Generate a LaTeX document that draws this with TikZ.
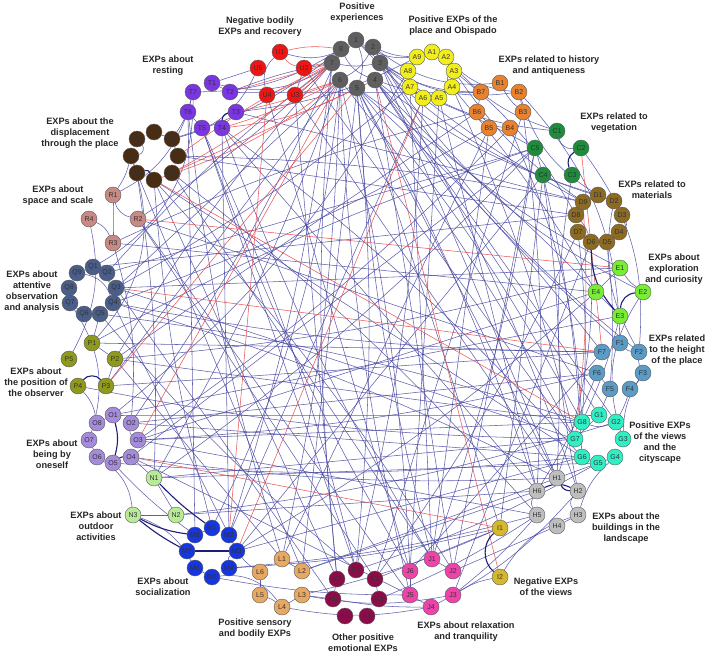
\documentclass[tikz,border=0pt]{standalone}
\usepackage{fontspec}
\setmainfont{Liberation Sans}
\usetikzlibrary{backgrounds}
\definecolor{cH0}{HTML}{5F5F5F}
\definecolor{cA}{HTML}{F2EE1E}
\definecolor{cB}{HTML}{E8822E}
\definecolor{cC}{HTML}{1E8C3C}
\definecolor{cD}{HTML}{8C6A22}
\definecolor{cE}{HTML}{77EE33}
\definecolor{cF}{HTML}{5B9CC6}
\definecolor{cG}{HTML}{2EF0C4}
\definecolor{cH}{HTML}{BEBEBE}
\definecolor{cI}{HTML}{D6B82E}
\definecolor{cJ}{HTML}{EE44AA}
\definecolor{cK}{HTML}{8E0B4A}
\definecolor{cL}{HTML}{E6A862}
\definecolor{cM}{HTML}{1536E0}
\definecolor{cN}{HTML}{B8EB98}
\definecolor{cO}{HTML}{A58BDC}
\definecolor{cP}{HTML}{8F9A1C}
\definecolor{cQ}{HTML}{4A5E8A}
\definecolor{cR}{HTML}{C98A86}
\definecolor{cS}{HTML}{4A2C12}
\definecolor{cT}{HTML}{7A36E0}
\definecolor{cU}{HTML}{EE1515}
\definecolor{eblue}{HTML}{4444A0}
\definecolor{ered}{HTML}{E84848}
\definecolor{enavy}{HTML}{1E1E78}
\begin{document}
\begin{tikzpicture}[x=1pt,y=-1pt,
  gn/.style={circle,draw=black!65,line width=0.4pt,minimum size=16pt,inner sep=0pt,
    font=\fontsize{7}{7}\selectfont,text=black!80},
  lab/.style={font=\bfseries\fontsize{9.2}{11}\selectfont,align=center,text=black!85,inner sep=0pt},
  be/.style={draw=eblue,line width=0.55pt,opacity=0.85},
  re/.style={draw=ered,line width=0.55pt,opacity=0.9},
  bt/.style={draw=enavy,line width=1.1pt}]
\useasboundingbox (0,0) rectangle (708,656);
% nodes
\foreach \n/\x/\y in {1/356/40,2/373/47,3/380/63,4/375/80,5/357/88,6/340/80,7/332/63,8/341/49}
  \node[gn,fill=cH0] (\n) at (\x,\y) {\n};
\foreach \n/\x/\y in {A1/432/52,A2/446/57,A3/454/71,A4/452/87,A5/439/98,A6/423/98,A7/410/87,A8/408/71,A9/417/57}
  \node[gn,fill=cA] (\n) at (\x,\y) {\n};
\foreach \n/\x/\y in {B1/500/83,B2/519/92,B3/523/112,B4/510/128,B5/489/128,B6/477/112,B7/481/92}
  \node[gn,fill=cB] (\n) at (\x,\y) {\n};
\foreach \n/\x/\y in {C1/557/131,C2/581/148,C3/572/175,C4/543/175,C5/535/148}
  \node[gn,fill=cC] (\n) at (\x,\y) {\n};
\foreach \n/\x/\y in {D1/598/195,D2/614/201,D3/622/215,D4/619/232,D5/607/242,D6/591/242,D7/578/232,D8/576/215,D9/583/202}
  \node[gn,fill=cD] (\n) at (\x,\y) {\n};
\foreach \n/\x/\y in {E1/620/268,E2/643/292,E3/620/316,E4/596/292}
  \node[gn,fill=cE] (\n) at (\x,\y) {\n};
\foreach \n/\x/\y in {F1/620/343,F2/639/352,F3/643/373,F4/630/389,F5/610/389,F6/597/373,F7/602/352}
  \node[gn,fill=cF] (\n) at (\x,\y) {\n};
\foreach \n/\x/\y in {G1/599/415,G2/616/422,G3/623/439,G4/615/457,G5/598/463,G6/582/457,G7/575/439,G8/582/422}
  \node[gn,fill=cG] (\n) at (\x,\y) {\n};
\foreach \n/\x/\y in {H1/557/478,H2/578/491,H3/578/515,H4/557/526,H5/537/515,H6/537/491}
  \node[gn,fill=cH] (\n) at (\x,\y) {\n};
\foreach \n/\x/\y in {I1/500/528,I2/500/577}
  \node[gn,fill=cI] (\n) at (\x,\y) {\n};
\foreach \n/\x/\y in {J1/432/559,J2/453/571,J3/453/595,J4/431/607,J5/410/595,J6/410/571}
  \node[gn,fill=cJ] (\n) at (\x,\y) {\n};
\foreach \n/\x/\y in {K1/356/570,K2/375/579,K3/379/599,K4/367/616,K5/345/616,K6/333/599,K7/337/579}
  \node[gn,fill=cK] (\n) at (\x,\y) {\n};
\foreach \n/\x/\y in {L1/282/559,L2/302/571,L3/302/595,L4/282/607,L5/260/595,L6/260/572}
  \node[gn,fill=cL] (\n) at (\x,\y) {\n};
\foreach \n/\x/\y in {M1/212/528,M2/229/535,M3/237/551,M4/229/568,M5/212/577,M6/195/568,M7/187/551,M8/195/535}
  \node[gn,fill=cM] (\n) at (\x,\y) {\n};
\foreach \n/\x/\y in {N1/154/478,N2/176/515,N3/133/515}
  \node[gn,fill=cN] (\n) at (\x,\y) {\n};
\foreach \n/\x/\y in {O1/113/415,O2/131/423,O3/138/440,O4/131/457,O5/113/463,O6/97/457,O7/89/440,O8/97/423}
  \node[gn,fill=cO] (\n) at (\x,\y) {\n};
\foreach \n/\x/\y in {P1/92/343,P2/115/359,P3/106/386,P4/78/386,P5/69/359}
  \node[gn,fill=cP] (\n) at (\x,\y) {\n};
\foreach \n/\x/\y in {Q1/93/267,Q2/107/273,Q3/116/288,Q4/113/303,Q5/100/314,Q6/84/314,Q7/70/303,Q8/69/288,Q9/77/273}
  \node[gn,fill=cQ] (\n) at (\x,\y) {\n};
\foreach \n/\x/\y in {R1/113/195,R2/138/219,R3/113/243,R4/89/219}
  \node[gn,fill=cR] (\n) at (\x,\y) {\n};
\foreach \n/\x/\y in {S1/154/132,S2/172/139,S3/178/156,S4/172/173,S5/154/180,S6/137/173,S7/131/156,S8/137/139}
  \node[gn,fill=cS] (\n) at (\x,\y) {\n};
\foreach \n/\x/\y in {T1/212/83,T2/230/92,T3/236/112,T4/222/128,T5/202/128,T6/188/112,T7/193/92}
  \node[gn,fill=cT] (\n) at (\x,\y) {\n};
\foreach \n/\x/\y in {U1/280/52,U2/304/68,U3/295/95,U4/267/95,U5/258/68}
  \node[gn,fill=cU] (\n) at (\x,\y) {\n};
% edges
\begin{scope}[on background layer]
\foreach \a/\b/\c in {1/A1/-25,2/A9/-10,3/B7/-15,2/B1/-20,1/B2/-25,3/C1/-15,4/D1/-10,4/C5/5,3/D9/-5,4/E1/-10,
  5/E4/5,5/F7/5,4/F1/-5,5/G8/5,4/G1/0,6/G7/5,5/H6/5,5/H1/0,6/J6/5,5/J1/-5,6/J5/-5,5/K1/5,7/K7/-5,6/L1/5,
  7/M2/5,6/M1/10,8/O2/5,7/P2/-5,7/Q2/-5,6/Q3/0,8/S2/10,7/T2/-5,8/T7/15,1/U1/25,3/H2/5,4/G2/0,5/I1/0,
  2/F2/-10,1/D2/-15,2/E2/-15,6/N1/5,7/R2/5,6/P3/0,5/L2/0,4/J2/0,3/H1/0,1/5/20,8/4/-20,2/6/15,7/3/-10,
  A7/J1/0,A6/K1/5,A5/J6/0,A4/G7/5,A8/O1/10,A9/T3/10,A7/Q3/5,A5/H6/0,A4/E4/5,A3/D8/10,A6/M2/0,A3/A4/-40,A1/A9/0,A8/A7/0,
  B6/P2/0,B5/Q4/5,B6/R3/-5,B4/O3/5,B3/K2/0,B5/L1/0,B4/G8/10,B3/H6/5,B6/B4/-20,B5/J1/0,B2/B3/0,B1/B3/-10,B7/B6/0,
  C5/J2/0,C5/J1/5,C4/H1/5,C4/I1/0,C4/G6/5,C5/N1/5,C5/P1/-5,C4/M3/0,C3/H2/-10,C5/O4/0,C4/C5/0,C1/C2/-40,
  D6/H1/10,D7/G8/5,D8/Q1/0,D9/S3/-5,D6/J3/0,D7/K2/5,D5/F5/5,D4/D3/-40,D8/D6/10,D9/D1/0,
  E1/Q3/0,E1/P2/5,E4/O3/0,E4/E3/0,E3/G8/5,E1/E4/0,E4/M3/5,E1/E2/-10,
  F7/P3/0,F6/O2/0,F5/G1/0,F7/Q4/5,F6/H6/5,F4/G2/5,F1/F2/-20,F3/F4/10,F6/F5/0,F7/J6/0,F2/F3/-15,
  G8/O3/0,G7/P4/5,G6/O5/5,G7/N1/0,G8/Q5/-5,G6/M3/0,G1/O1/0,G2/N2/5,G5/K1/5,G4/L2/0,G8/G2/-20,G6/G5/0,G7/G1/0,
  H1/O4/5,H6/N2/0,H5/M4/5,H5/K3/5,H6/L2/0,H4/J2/0,H3/H4/0,H5/J3/5,H2/J4/10,H6/H5/-30,H3/H2/40,
  I1/L3/5,I1/K2/0,I1/M4/5,
  J1/T4/5,J6/T5/5,J5/M5/5,J4/L4/10,J1/S4/0,J6/J5/0,J3/L3/10,J4/K6/5,J1/J2/0,J5/J4/0,
  K1/T5/0,K7/S5/0,K2/R2/0,K6/L3/0,K3/K2/0,K1/Q5/5,K7/K6/0,
  L1/T6/5,L6/M3/10,L2/S6/0,L1/L2/0,L6/L5/0,L5/L4/10,L3/L4/0,
  M2/T4/0,M1/S5/5,M3/Q4/0,M2/M3/0,M3/M4/-30,M8/O5/5,M1/M8/0,M6/M5/0,
  N1/O4/0,N2/N3/0,N1/N2/0,O2/O3/-30,O7/O6/0,O8/O1/0,P2/P3/0,P1/P2/0,
  Q9/Q4/30,Q1/Q3/0,Q7/Q6/0,R1/R2/-30,R4/R3/20,R1/R3/0,S8/S7/60,S2/S3/0,S1/S2/0,S7/S6/0,
  T6/T5/0,T1/T2/0,T7/T6/0,U1/U4/-30,U2/U3/0,
  S3/D8/0,T3/D9/0,T2/B7/0,R2/F6/0,Q3/G7/0,P2/G8/0,O3/F6/-5,Q4/H1/5,S4/H5/5,T4/G6/5,S5/J2/5,T5/K1/5,
  Q2/C5/0,R3/E4/0,P1/F7/0,O1/E3/0,N1/G5/0,T6/M8/0,S6/N1/5,R3/O2/10,Q5/P1/0,S7/R1/10,T7/S2/10,U5/T1/0,
  U3/K7/0,U4/J6/0,U3/H1/0,U2/G7/0,T4/H6/0,S5/G6/0,R2/J5/0,Q3/K6/0,P2/L1/0,O4/J5/0,O3/H5/0,O2/G6/0,
  B2/F1/20,C2/F2/20,A2/C1/-15,A3/D9/-10,
  T7/Q1/30,T6/R1/20,S7/P1/30,R4/P5/20,Q7/O7/25,P4/O8/15,O6/N3/25,N3/M6/20,M5/L4/30,
  D2/F2/-20,E2/G3/-25,F3/G3/-15,G4/H3/-15,H3/I2/-20,I2/J3/-10,U5/S2/25,1/T1/30,A2/B2/-20,B2/D1/-20}
  \draw[be] (\a) to[bend left=\c] (\b);
\foreach \a/\b/\c in {7/U2/-5,7/U3/5,7/U4/5,6/T4/5,6/T3/5,7/T2/0,8/U1/-10,6/S5/10,7/S4/5,5/T4/10,6/U3/0,
  R2/E1/0,O4/I1/0,4/I2/0,C2/F7/0,D9/G7/5,M2/U4/0,M3/A6/0,O3/6/0,P3/5/0,Q3/F7/0,S5/G8/0,S4/4/0,U1/U2/-20,S3/7/5}
  \draw[re] (\a) to[bend left=\c] (\b);
\foreach \a/\b/\c in {C2/C3/-40,D6/E3/-20,E2/E3/-40,H1/H2/-30,H6/H2/25,I1/I2/-50,M8/N3/10,M7/N3/5,M1/N1/5,
  M7/M3/0,O5/O4/20,O1/O5/15,P4/P3/50,T3/T4/-40,S6/S5/40}
  \draw[bt] (\a) to[bend left=\c] (\b);
\end{scope}
% labels
\node[lab] (l1) at (260,26.5) {Negative bodily\\EXPs and recovery};
\node[lab] (l2) at (357,12.5) {Positive\\experiences};
\node[lab] (l3) at (453,25.5) {Positive EXPs of the\\place and Obispado};
\node[lab] (l4) at (549,65.5) {EXPs related to history\\and antiqueness};
\node[lab] (l5) at (614,122.5) {EXPs related to\\vegetation};
\node[lab] (l6) at (652,189.5) {EXPs related to\\materials};
\node[lab] (l7) at (674,269) {EXPs about\\exploration\\and curiosity};
\node[lab] (l8) at (677,350.5) {EXPs related\\to the height\\of the place};
\node[lab] (l9) at (660,442.5) {Positive EXPs\\of the views\\and the\\cityscape};
\node[lab] (l10) at (626,528) {EXPs about the\\buildings in the\\landscape};
\node[lab] (l11) at (546,586.5) {Negative EXPs\\of the views};
\node[lab] (l12) at (466,631.5) {EXPs about relaxation\\and tranquility};
\node[lab] (l13) at (363,642.5) {Other positive\\emotional EXPs};
\node[lab] (l14) at (255,628.5) {Positive sensory\\and bodily EXPs};
\node[lab] (l15) at (163,586.5) {EXPs about\\socialization};
\node[lab] (l16) at (96,526) {EXPs about\\outdoor\\activities};
\node[lab] (l17) at (52,454.5) {EXPs about\\being by\\oneself};
\node[lab] (l18) at (36,382) {EXPs about\\the position of\\the observer};
\node[lab] (l19) at (32,291.5) {EXPs about\\attentive\\observation\\and analysis};
\node[lab] (l20) at (58,195.5) {EXPs about\\space and scale};
\node[lab] (l21) at (80,133) {EXPs about the\\displacement\\through the place};
\node[lab] (l22) at (168,66) {EXPs about\\resting};
\end{tikzpicture}
\end{document}
